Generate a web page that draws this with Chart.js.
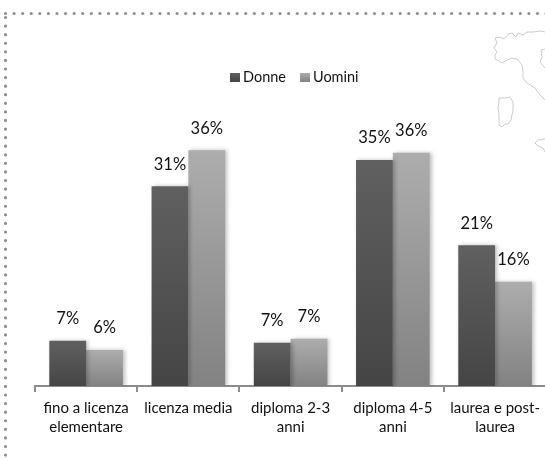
<!DOCTYPE html>
<html lang="it">
<head>
    <meta charset="UTF-8">
    <title>Donne e Uomini per titolo di studio</title>
    <script src="https://cdn.jsdelivr.net/npm/chart.js"></script>
    <style>
        html, body { margin: 0; padding: 0; background: #fff; overflow: hidden; }
        .chart-container { position: relative; width: 547px; height: 460px; }
    </style>
</head>
<body>
    <div class="chart-container"><canvas id="chart"></canvas></div>

    <script>
        const categories = [
            ['fino a licenza', 'elementare'],
            ['licenza media'],
            ['diploma 2-3', 'anni'],
            ['diploma 4-5', 'anni'],
            ['laurea e post-', 'laurea']
        ];
        const donne = [6.9, 30.5, 6.6, 34.5, 21.5];
        const uomini = [5.5, 36, 7.2, 35.6, 15.9];
        const donneLabels = ['7%', '31%', '7%', '35%', '21%'];
        const uominiLabels = ['6%', '36%', '7%', '36%', '16%'];

        // page decoration: the map outline behind the chart (picture pixels)
        const italyOutlines = [
            [[545, 32], [540, 31], [533, 32], [527, 32], [523, 35], [518, 33], [516, 37], [512, 33], [508, 34], [506, 37], [503, 39], [500, 37], [495, 38], [497, 43], [494, 48], [497, 52], [495, 55], [495, 59], [499, 61], [502, 63], [507, 60], [512, 58], [517, 59], [522, 65], [523, 72], [523, 78], [527, 83], [535, 88], [540, 95], [545, 100]],
            [[499, 98], [505, 98], [510, 97], [513, 102], [513, 110], [511, 120], [508, 124], [505, 124], [502, 127], [499, 125], [499, 115], [498, 107], [499, 102], [499, 98]],
            [[545, 49], [541, 50], [542, 57], [540, 62], [545, 68]],
            [[545, 139], [538, 140], [535, 143], [538, 146], [543, 148], [545, 152]]
        ];

        function barGradient(ctx, top, bottom) {
            const y = ctx.chart.scales.y;
            if (ctx.dataIndex === undefined || !y || !ctx.chart.chartArea) return bottom;
            const value = ctx.dataset.data[ctx.dataIndex];
            const g = ctx.chart.ctx.createLinearGradient(0, y.getPixelForValue(value), 0, y.getPixelForValue(0));
            g.addColorStop(0, top);
            g.addColorStop(1, bottom);
            return g;
        }

        const pagePlugin = {
            id: 'page',
            beforeDraw(chart) {
                const c = chart.ctx;
                c.save();
                c.strokeStyle = '#cccccc';
                c.lineWidth = 1;
                italyOutlines.forEach(line => {
                    c.beginPath();
                    line.forEach((p, i) => i ? c.lineTo(p[0], p[1]) : c.moveTo(p[0], p[1]));
                    c.stroke();
                });
                // dotted frame top and left
                c.strokeStyle = '#8f8f8f';
                c.lineWidth = 3.2;
                c.lineCap = 'round';
                c.setLineDash([0, 8.58]);
                c.beginPath();
                c.moveTo(5.5, 13.5);
                c.lineTo(547, 13.5);
                c.stroke();
                c.beginPath();
                c.moveTo(5.5, 17.5);
                c.lineTo(5.5, 460);
                c.stroke();
                c.restore();
            }
        };

        const shadowPlugin = {
            id: 'barShadow',
            beforeDatasetsDraw(chart) {
                const c = chart.ctx;
                c.save();
                c.shadowColor = 'rgba(0,0,0,0.25)';
                c.shadowBlur = 4;
                c.shadowOffsetX = 2;
                c.shadowOffsetY = 0;
            },
            afterDatasetsDraw(chart) {
                chart.ctx.restore();
            }
        };

        const valueLabelPlugin = {
            id: 'valueLabels',
            afterDatasetsDraw(chart) {
                const c = chart.ctx;
                const texts = [donneLabels, uominiLabels];
                c.save();
                c.font = '16.5px Lato';
                c.fillStyle = '#111';
                c.textAlign = 'center';
                c.textBaseline = 'middle';
                chart.data.datasets.forEach((ds, d) => {
                    chart.getDatasetMeta(d).data.forEach((bar, i) => {
                        c.fillText(texts[d][i], bar.x, bar.y - 22);
                    });
                });
                c.restore();
            }
        };

        // built-in legend puts too wide a gap between swatch and text
        const legendPlugin = {
            id: 'topLegend',
            afterDraw(chart) {
                const c = chart.ctx;
                const entries = [
                    { x: 230, top: '#606060', bottom: '#454545' },
                    { x: 300, top: '#adadad', bottom: '#828282' }
                ];
                c.save();
                c.font = '14.5px Lato';
                c.fillStyle = '#111';
                c.textBaseline = 'middle';
                entries.forEach((e, i) => {
                    const g = c.createLinearGradient(0, 73, 0, 82);
                    g.addColorStop(0, e.top);
                    g.addColorStop(1, e.bottom);
                    c.fillStyle = g;
                    c.fillRect(e.x, 73, 10, 9);
                    c.fillStyle = '#111';
                    c.fillText(chart.data.datasets[i].label, e.x + 13, 77.5);
                });
                c.restore();
            }
        };

        new Chart(document.getElementById('chart'), {
            type: 'bar',
            data: {
                labels: categories,
                datasets: [
                    { label: 'Donne', data: donne, backgroundColor: ctx => barGradient(ctx, '#606060', '#454545') },
                    { label: 'Uomini', data: uomini, backgroundColor: ctx => barGradient(ctx, '#adadad', '#828282') }
                ]
            },
            options: {
                responsive: true,
                maintainAspectRatio: false,
                animation: false,
                layout: { padding: { left: 35, right: 0, top: 124, bottom: 0 } },
                datasets: { bar: { categoryPercentage: 0.72, barPercentage: 1 } },
                plugins: {
                    tooltip: { enabled: false },
                    legend: { display: false }
                },
                scales: {
                    y: { display: false, min: 0, max: 40 },
                    x: {
                        afterFit(scale) { scale.height = 74; },
                        border: { color: '#8c8c8c', width: 2 },
                        grid: { drawOnChartArea: false, color: '#8c8c8c', lineWidth: 2, tickLength: 6 },
                        ticks: {
                            color: '#111',
                            padding: 7,
                            maxRotation: 0,
                            autoSkip: false,
                            font: { family: 'Lato', size: 15, lineHeight: 1.27 }
                        }
                    }
                }
            },
            plugins: [pagePlugin, shadowPlugin, valueLabelPlugin, legendPlugin]
        });
    </script>
</body>
</html>
